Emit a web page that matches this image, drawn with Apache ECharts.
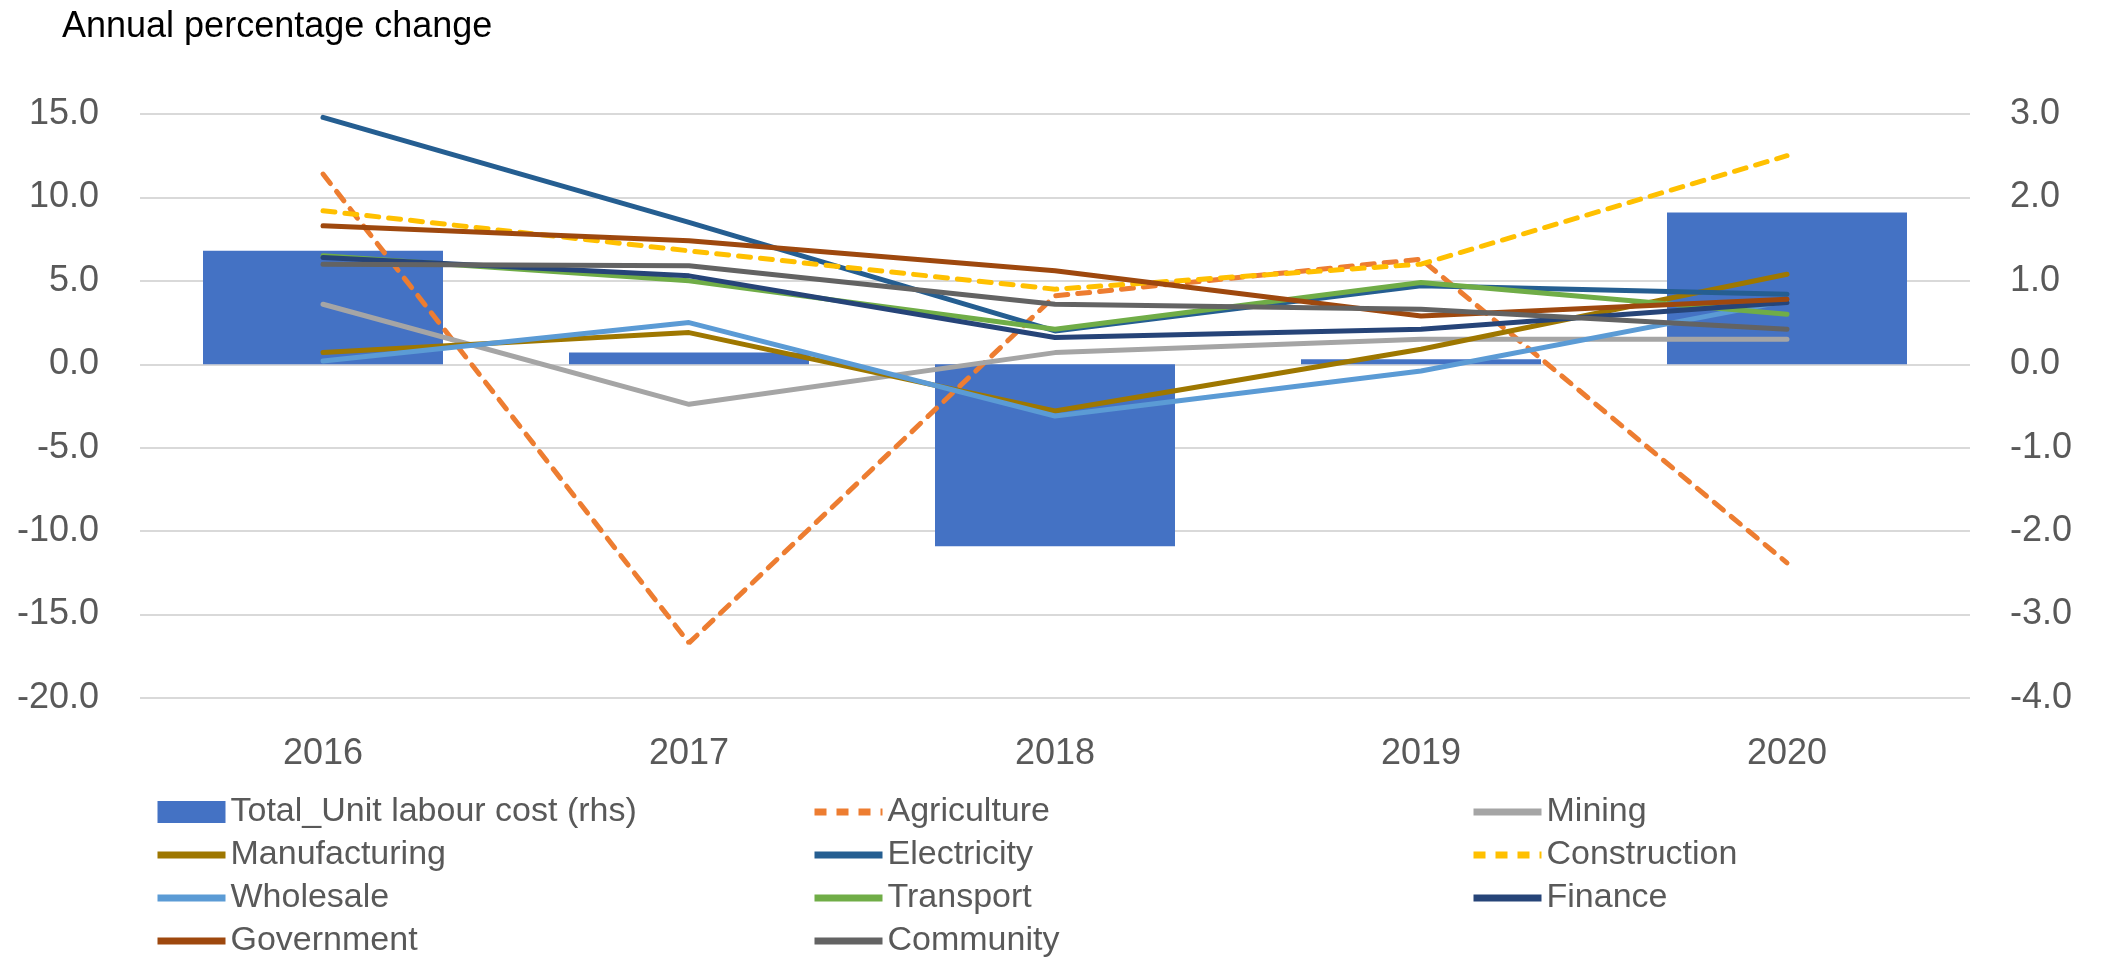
<!DOCTYPE html>
<html>
<head>
<meta charset="utf-8">
<script src="https://cdn.jsdelivr.net/npm/echarts@6/dist/echarts.min.js"></script>
<style>
  html, body { margin: 0; padding: 0; background: #fff; }
  #main { width: 2101px; height: 958px; }
</style>
</head>
<body>
<div id="main"></div>
<script>
var years = ['2016', '2017', '2018', '2019', '2020']
// rhs axis
var totalUlc = [1.36, 0.14, -2.18, 0.06, 1.82]
// lhs axis
var agriculture = [11.4, -16.7, 4.1, 6.3, -11.9]
var mining = [3.6, -2.4, 0.7, 1.5, 1.5]
var manufacturing = [0.7, 1.9, -2.8, 0.9, 5.4]
var electricity = [14.8, 8.5, 2.0, 4.7, 4.2]
var construction = [9.2, 6.8, 4.5, 6.0, 12.5]
var wholesale = [0.2, 2.5, -3.1, -0.4, 3.8]
var transport = [6.5, 5.0, 2.1, 4.9, 3.0]
var finance = [6.4, 5.3, 1.6, 2.1, 3.7]
var government = [8.3, 7.4, 5.6, 2.9, 3.9]
var community = [6.0, 5.9, 3.6, 3.3, 2.1]

var font = "'Liberation Sans', Arial, sans-serif"
var chart = echarts.init(document.getElementById('main'))

function line(name, data, color, dashed) {
  return {
    name: name,
    type: 'line',
    yAxisIndex: 0,
    data: data,
    symbol: 'none',
    lineStyle: {
      color: color,
      width: 5,
      type: dashed ? [12, 10] : 'solid',
      cap: 'round'
    },
    itemStyle: { color: color }
  }
}

// legend entry: bar gets a plain rect, lines just a thick stroke (hide the dot)
function entry(name) {
  if (name.indexOf('rhs') > -1) return { name: name, icon: 'rect' }
  return { name: name, itemStyle: { opacity: 0 }, lineStyle: { width: 7, cap: 'butt' } }
}

function legendCol(left, names) {
  return {
    orient: 'vertical',
    left: left,
    top: 795,
    padding: 0,
    itemWidth: 68,
    itemHeight: 22,
    itemGap: 9,
    data: names.map(entry),
    textStyle: { fontFamily: font, fontSize: 34, lineHeight: 34, color: '#595959' }
  }
}

var axisLabelStyle = {
  fontFamily: font,
  fontSize: 36,
  color: '#595959',
  formatter: v => v.toFixed(1)
}

var option = {
  animation: false,
  backgroundColor: '#fff',
  title: {
    text: 'Annual percentage change',
    left: 62,
    top: 9,
    padding: 0,
    textStyle: { fontFamily: font, fontSize: 36, fontWeight: 'normal', color: '#000' }
  },
  legend: [
    legendCol(154, ['Total_Unit labour cost (rhs)', 'Manufacturing', 'Wholesale', 'Government']),
    legendCol(811, ['Agriculture', 'Electricity', 'Transport', 'Community']),
    legendCol(1470, ['Mining', 'Construction', 'Finance'])
  ],
  grid: { left: 140, right: 131, top: 114, bottom: 260 },
  xAxis: {
    type: 'category',
    data: years,
    axisLine: { show: false, onZero: false },
    axisTick: { show: false },
    axisLabel: { fontFamily: font, fontSize: 36, color: '#595959', margin: 38 }
  },
  yAxis: [
    {
      type: 'value',
      min: -20,
      max: 15,
      interval: 5,
      axisLine: { show: false },
      axisTick: { show: false },
      splitLine: { lineStyle: { color: '#D9D9D9', width: 2 } },
      axisLabel: Object.assign({ margin: 41 }, axisLabelStyle)
    },
    {
      type: 'value',
      min: -4,
      max: 3,
      interval: 1,
      position: 'right',
      axisLine: { show: false },
      axisTick: { show: false },
      splitLine: { show: false },
      axisLabel: Object.assign({ margin: 40 }, axisLabelStyle)
    }
  ],
  series: [
    {
      name: 'Total_Unit labour cost (rhs)',
      type: 'bar',
      yAxisIndex: 1,
      data: totalUlc,
      barWidth: 240,
      itemStyle: { color: '#4472C4' }
    },
    line('Agriculture', agriculture, '#ED7D31', true),
    line('Mining', mining, '#A5A5A5'),
    line('Manufacturing', manufacturing, '#9E7700'),
    line('Electricity', electricity, '#255E91'),
    line('Construction', construction, '#FFC000', true),
    line('Wholesale', wholesale, '#5B9BD5'),
    line('Transport', transport, '#70AD47'),
    line('Finance', finance, '#264478'),
    line('Government', government, '#9E480E'),
    line('Community', community, '#636363')
  ]
}

option && chart.setOption(option)
</script>
</body>
</html>
